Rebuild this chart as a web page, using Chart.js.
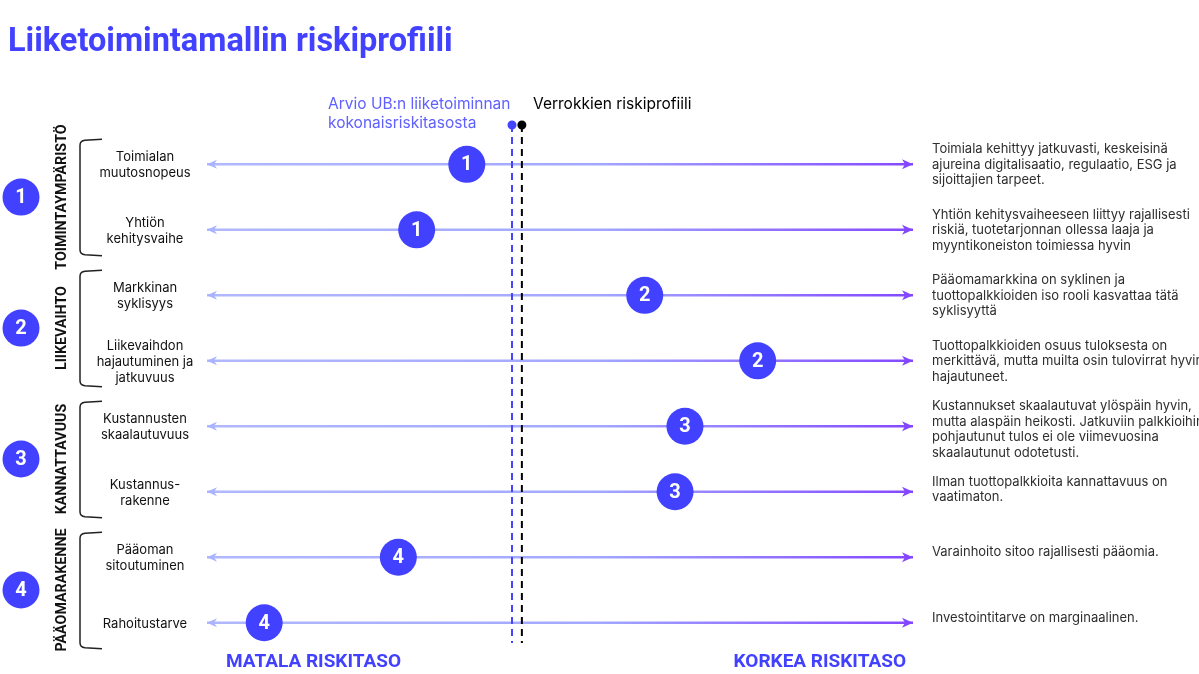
<!DOCTYPE html>
<html>
<head>
<meta charset="utf-8">
<script src="https://cdn.jsdelivr.net/npm/chart.js@4"></script>
<style>
html, body { margin: 0; padding: 0; background: #fff; }
#wrap { width: 1199px; height: 674px; position: relative; }
</style>
</head>
<body>
<div id="wrap"><canvas id="riski"></canvas></div>
<script>
const otsikko = 'Liiketoimintamallin riskiprofiili';
const tekijat = [
    ['Toimialan', 'muutosnopeus'],
    ['Yhtiön', 'kehitysvaihe'],
    ['Markkinan', 'syklisyys'],
    ['Liikevaihdon', 'hajautuminen ja', 'jatkuvuus'],
    ['Kustannusten', 'skaalautuvuus'],
    ['Kustannus-', 'rakenne'],
    ['Pääoman', 'sitoutuminen'],
    ['Rahoitustarve']
];
const ryhmat = ['TOIMINTAYMPÄRISTÖ', 'LIIKEVAIHTO', 'KANNATTAVUUS', 'PÄÄOMARAKENNE'];
const ryhmaRivit = [0, 0, 1, 1, 2, 2, 3, 3];
const tasot = [36.8, 29.7, 62.0, 78.0, 67.7, 66.3, 27.1, 8.1];
const kuvaukset = [
    ['Toimiala kehittyy jatkuvasti, keskeisinä', 'ajureina digitalisaatio, regulaatio, ESG ja', 'sijoittajien tarpeet.'],
    ['Yhtiön kehitysvaiheeseen liittyy rajallisesti', 'riskiä, tuotetarjonnan ollessa laaja ja', 'myyntikoneiston toimiessa hyvin'],
    ['Pääomamarkkina on syklinen ja', 'tuottopalkkioiden iso rooli kasvattaa tätä', 'syklisyyttä'],
    ['Tuottopalkkioiden osuus tuloksesta on', 'merkittävä, mutta muilta osin tulovirrat hyvin', 'hajautuneet.'],
    ['Kustannukset skaalautuvat ylöspäin hyvin,', 'mutta alaspäin heikosti. Jatkuviin palkkioihin', 'pohjautunut tulos ei ole viimevuosina', 'skaalautunut odotetusti.'],
    ['Ilman tuottopalkkioita kannattavuus on', 'vaatimaton.'],
    ['Varainhoito sitoo rajallisesti pääomia.'],
    ['Investointitarve on marginaalinen.']
];
const ubTaso = 43.2;
const verrokkiTaso = 44.6;
const ubNimi = ['Arvio UB:n liiketoiminnan', 'kokonaisriskitasosta'];
const verrokkiNimi = 'Verrokkien riskiprofiili';
const asteikko = ['MATALA RISKITASO', 'KORKEA RISKITASO'];

const sininen = '#4141ff';
const tekstiFontti = 'Inter, "Noto Sans", sans-serif';
const lihavaFontti = 'Roboto, "Liberation Sans", sans-serif';

function liukuvari(ctx) {
    const { chart } = ctx;
    const alue = chart.chartArea;
    if (!alue) return '#a8b0ff';
    const g = chart.ctx.createLinearGradient(alue.left, 0, alue.right, 0);
    g.addColorStop(0, '#b0b8ff');
    g.addColorStop(0.55, '#a2a8ff');
    g.addColorStop(1, '#8447ff');
    return g;
}

const nuolet = tekijat.map((t, i) => ({
    data: [{ x: 0, y: i }, { x: 100, y: i }],
    showLine: true,
    borderColor: liukuvari,
    borderWidth: 2.5,
    pointRadius: 0,
    order: 3
}));

const piirrot = {
    id: 'piirrot',
    afterDatasetsDraw(chart) {
        const c = chart.ctx;
        const x = chart.scales.x;
        const y = chart.scales.y;
        const x0 = x.getPixelForValue(0);
        const x1 = x.getPixelForValue(100);
        c.save();

        // nuolenkärjet
        tekijat.forEach((t, i) => {
            const yy = y.getPixelForValue(i);
            c.fillStyle = '#aab3ff';
            c.beginPath();
            c.moveTo(x0, yy);
            c.lineTo(x0 + 10, yy - 4.5);
            c.lineTo(x0 + 7, yy);
            c.lineTo(x0 + 10, yy + 4.5);
            c.closePath();
            c.fill();
            c.fillStyle = '#8447ff';
            c.beginPath();
            c.moveTo(x1, yy);
            c.lineTo(x1 - 11, yy - 5);
            c.lineTo(x1 - 8, yy);
            c.lineTo(x1 - 11, yy + 5);
            c.closePath();
            c.fill();
        });

        // numerot palloissa
        c.fillStyle = '#fff';
        c.font = 'bold 20px ' + lihavaFontti;
        c.textAlign = 'center';
        c.textBaseline = 'middle';
        chart.getDatasetMeta(0).data.forEach((p, i) => {
            c.fillText(String(ryhmaRivit[i] + 1), p.x, p.y + 1);
        });

        // vasemman reunan tekijät
        c.fillStyle = '#111';
        c.font = '13px ' + tekstiFontti;
        tekijat.forEach((rivit, i) => {
            const yy = y.getPixelForValue(i) + 1;
            rivit.forEach((r, k) => {
                c.fillText(r, 145, yy + (k - (rivit.length - 1) / 2) * 16);
            });
        });

        // oikean reunan kuvaukset
        c.textAlign = 'left';
        c.fillStyle = '#2e2e2e';
        c.font = '13px ' + tekstiFontti;
        kuvaukset.forEach((rivit, i) => {
            const n = rivit.length;
            const keski = y.getPixelForValue(i) - 5 + (n - 1) * 2.75;
            rivit.forEach((r, k) => c.fillText(r, 932, keski + (k - (n - 1) / 2) * 15.5));
        });

        // ryhmät: sulkeet, pystytekstit, pallot
        ryhmat.forEach((nimi, g) => {
            const rivit = ryhmaRivit.map((r, i) => r === g ? i : -1).filter(i => i >= 0);
            const ya = y.getPixelForValue(rivit[0]);
            const yb = y.getPixelForValue(rivit[rivit.length - 1]);
            const yl = ya - 25, ya2 = yb + 26, keski = (ya + yb) / 2;
            c.strokeStyle = '#222';
            c.lineWidth = 1.5;
            c.beginPath();
            c.moveTo(102, yl);
            c.lineTo(85, yl + 1);
            c.quadraticCurveTo(80, yl + 1.5, 80, yl + 6);
            c.lineTo(80, ya2 - 6);
            c.quadraticCurveTo(80, ya2 - 1.5, 85, ya2 - 1);
            c.lineTo(102, ya2);
            c.stroke();

            c.save();
            c.translate(62, keski);
            c.rotate(-Math.PI / 2);
            c.scale(0.95, 1);
            c.fillStyle = '#111';
            c.font = 'bold 15px ' + lihavaFontti;
            c.textAlign = 'center';
            c.fillText(nimi, 0, 0);
            c.restore();

            c.fillStyle = sininen;
            c.beginPath();
            c.arc(21, keski, 18.5, 0, Math.PI * 2);
            c.fill();
            c.fillStyle = '#fff';
            c.font = 'bold 20px ' + lihavaFontti;
            c.textAlign = 'center';
            c.fillText(String(g + 1), 21, keski + 1);
        });

        // otsikko ja selitteet
        c.textAlign = 'left';
        c.fillStyle = sininen;
        c.font = 'bold 32.5px ' + lihavaFontti;
        c.fillText(otsikko, 8, 43);

        c.font = '15.5px ' + tekstiFontti;
        c.fillStyle = '#6060ff';
        ubNimi.forEach((r, k) => c.fillText(r, 328, 104 + k * 19));
        c.fillStyle = '#000';
        c.fillText(verrokkiNimi, 533, 104);

        c.fillStyle = sininen;
        c.font = 'bold 19px ' + lihavaFontti;
        c.fillText(asteikko[0], 226, 662);
        c.textAlign = 'right';
        c.fillText(asteikko[1], 906, 662);
        c.restore();
    }
};

new Chart(document.getElementById('riski'), {
    type: 'scatter',
    data: {
        datasets: [
            {
                data: tasot.map((v, i) => ({ x: v, y: i })),
                backgroundColor: sininen,
                borderWidth: 0,
                pointRadius: 18.5,
                order: 1
            },
            {
                data: [{ x: ubTaso, y: -0.6 }, { x: ubTaso, y: 7.31 }],
                showLine: true,
                borderColor: '#4545ff',
                backgroundColor: '#4545ff',
                borderWidth: 2,
                borderDash: [7, 5],
                pointRadius: [3.5, 0],
                order: 2
            },
            {
                data: [{ x: verrokkiTaso, y: -0.6 }, { x: verrokkiTaso, y: 7.31 }],
                showLine: true,
                borderColor: '#000',
                backgroundColor: '#000',
                borderWidth: 2,
                borderDash: [7, 5],
                pointRadius: [3.5, 0],
                order: 2
            },
            ...nuolet
        ]
    },
    options: {
        responsive: true,
        maintainAspectRatio: false,
        animation: false,
        events: [],
        layout: { padding: { left: 207, right: 286, top: 115.2, bottom: 18.4 } },
        scales: {
            x: { display: false, min: 0, max: 100 },
            y: { display: false, min: -0.75, max: 7.5, reverse: true }
        },
        plugins: {
            legend: { display: false },
            tooltip: { enabled: false }
        }
    },
    plugins: [piirrot]
});
</script>
</body>
</html>
